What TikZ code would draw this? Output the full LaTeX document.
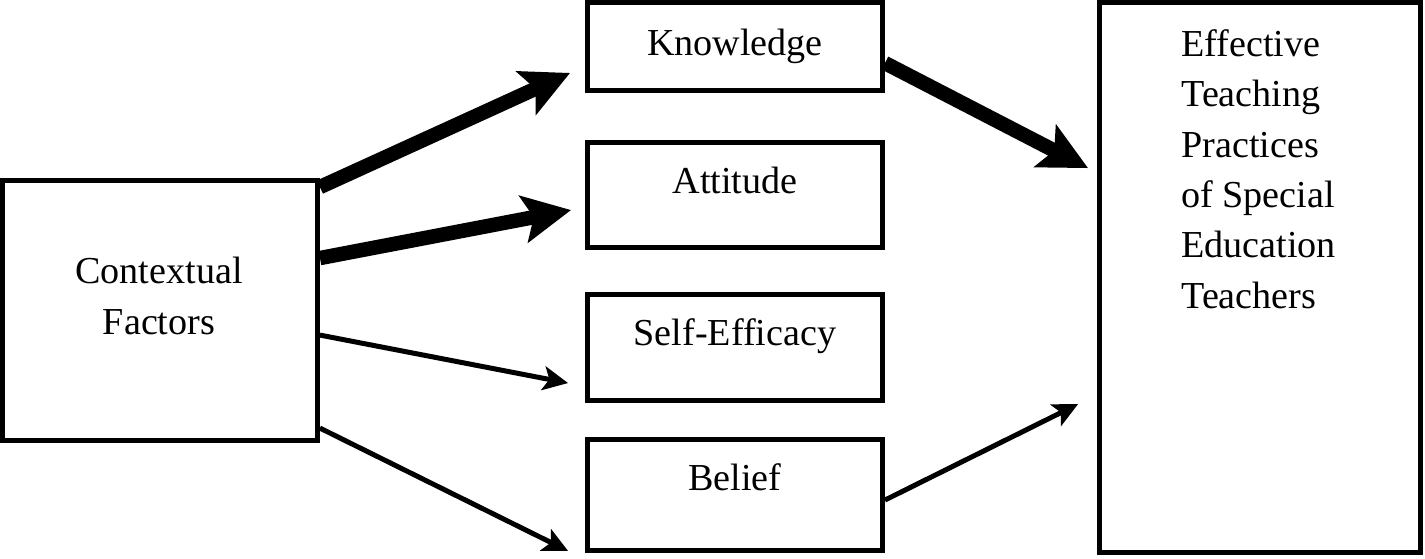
\documentclass[tikz,border=0pt]{standalone}
\usepackage{fontspec}
\setmainfont{Liberation Serif}
\usetikzlibrary{
    arrows.meta,
    calc,
    positioning
}

\tikzset{
    box/.style={draw, line width=2.8pt, inner sep=0pt},
    lbl/.style={font=\fontsize{21.7pt}{28.7pt}\selectfont, inner sep=0pt},
    thickarr/.style={line width=0.29cm, -{Stealth[length=0.96cm, width=0.94cm, inset=0.2cm]}},
    thinarr/.style={line width=0.1cm, -{Stealth[length=0.5cm, width=0.48cm, inset=0.12cm]}}
}

\begin{document}
\begin{tikzpicture}[x=0.02cm, y=-0.02cm]
                        \useasboundingbox (0, 0) rectangle (1425, 558);

                        % boxes
                        \node[box, minimum width=6.3cm, minimum height=5.2cm] (ctx) at (160, 310.5) {};
                        \node[box, minimum width=5.9cm, minimum height=1.76cm] (know) at (735, 46.5) {};
                        \node[box, minimum width=5.9cm, minimum height=2.1cm] (att) at (735, 195) {};
                        \node[box, minimum width=5.9cm, minimum height=2.12cm] (self) at (735, 347.5) {};
                        \node[box, minimum width=5.9cm, minimum height=2.22cm] (bel) at (735, 495) {};
                        \node[box, minimum width=6.42cm, minimum height=11.01cm] (eff) at (1260, 277.75) {};

                        % texts
                        \node[lbl, align=center, anchor=north] (ctxtxt) at (159, 257) {Contextual\\Factors};
                        \node[lbl, anchor=base] (knowtxt) at (735, 55) {Knowledge};
                        \node[lbl, anchor=base] (atttxt) at (735, 193) {Attitude};
                        \node[lbl, anchor=base] (selftxt) at (735, 345) {Self-Efficacy};
                        \node[lbl, anchor=base] (beltxt) at (735, 490) {Belief};
                        \node[lbl, align=left, anchor=north west] (efftxt) at (1181, 29)
                            {Effective\\Teaching\\Practices\\of Special\\Education\\Teachers};

                        \draw
                        ($(ctx.north east)+(0, 9)$) edge[thickarr] ($(know.south west)+(-15, -20)$)
                        ($(ctx.north east)+(0, 80)$) edge[thickarr] ($(att.north west)+(-14, 70)$)
                        ($(ctx.north east)+(0, 157)$) edge[thinarr] ($(self.north west)+(-17, 91)$)
                        ($(ctx.north east)+(0, 250)$) edge[thinarr] ($(bel.south west)+(-17, -2)$)
                        ($(know.north east)+(0, 63)$) edge[thickarr] ($(eff.north west)+(-9, 168)$)
                        ($(bel.north east)+(0, 63)$) edge[thinarr] ($(eff.north west)+(-19, 404)$);
                    \end{tikzpicture}
\end{document}
